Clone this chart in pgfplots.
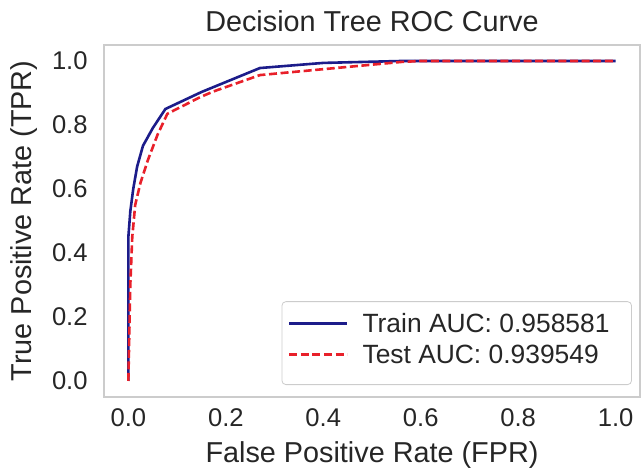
\documentclass[border=0pt]{standalone}
\usepackage{pgfplots}
\pgfplotsset{compat=1.18}
\usepackage{fontspec}
\setmainfont{Liberation Sans}

\definecolor{txt}{HTML}{262626}
\definecolor{frame}{HTML}{CCCCCC}
\definecolor{trainc}{HTML}{1C1C8A}
\definecolor{testc}{HTML}{E8202A}

\begin{document}
\begin{tikzpicture}
\useasboundingbox (-52pt,-39pt) rectangle (269.5pt,198.5pt);
\begin{axis}[
    scale only axis,
    width=268pt, height=176pt,
    xmin=-0.05, xmax=1.05,
    ymin=-0.05, ymax=1.05,
    xtick={0,0.2,...,1.0}, ytick={0,0.2,...,1.0},
    /pgf/number format/assume math mode=true,
    /pgf/number format/.cd, fixed, fixed zerofill, precision=1, /pgfplots/.cd,
    major tick length=0pt,
    axis line style={draw=frame, line width=0.7pt},
    tick label style={font=\fontsize{12.8}{14}\selectfont, text=txt},
    xticklabel style={anchor=base, yshift=-15pt},
    yticklabel style={anchor=east, inner xsep=0pt, xshift=-8pt},
    every axis title shift=0pt,
    title={Decision Tree ROC Curve},
    title style={font=\fontsize{14.4}{16}\selectfont, text=txt, at={(axis description cs:0.5,1.037)}, anchor=base},
    xlabel={False Positive Rate (FPR)},
    ylabel={True Positive Rate (TPR)},
    label style={font=\fontsize{14.4}{16}\selectfont, text=txt},
    xlabel style={at={(axis description cs:0.5,-0.1875)}, anchor=base},
    ylabel style={at={(axis description cs:-0.149,0.5)}, anchor=center},
    legend cell align=left,
    legend image code/.code={\draw[#1] (0pt,2.2pt) -- (29pt,2.2pt); \path (36pt,0pt);},
    legend style={
        at={(axis description cs:0.985,0.034)}, anchor=south east,
        draw=frame, fill=white, rounded corners=2pt,
        inner xsep=3pt, inner ysep=6pt,
        font=\fontsize{13.2}{15}\selectfont, text=txt,
        nodes={inner sep=0pt, text height=9.5pt, text depth=4.5pt},
        row sep=1.5pt,
    },
]
\addplot[color=trainc, line width=1.3pt] coordinates {
    (0,0) (0,0.45) (0.004,0.53) (0.01,0.6) (0.018,0.67) (0.03,0.735)
    (0.05,0.79) (0.076,0.85) (0.15,0.903) (0.27,0.978) (0.4,0.994)
    (0.56,1.0) (1.0,1.0)
};
\addlegendentry{Train AUC: 0.958581\kern8pt}
\addplot[color=testc, line width=1.3pt, dash pattern=on 4pt off 1.8pt] coordinates {
    (0,0) (0.004,0.3) (0.008,0.45) (0.014,0.55) (0.025,0.62) (0.04,0.69)
    (0.06,0.77) (0.08,0.835) (0.148,0.8875) (0.175,0.905) (0.27,0.956)
    (0.39,0.973) (0.56,0.997) (0.6,1.0) (1.0,1.0)
};
\addlegendentry{Test AUC: 0.939549\kern8pt}
\end{axis}
\end{tikzpicture}
\end{document}
